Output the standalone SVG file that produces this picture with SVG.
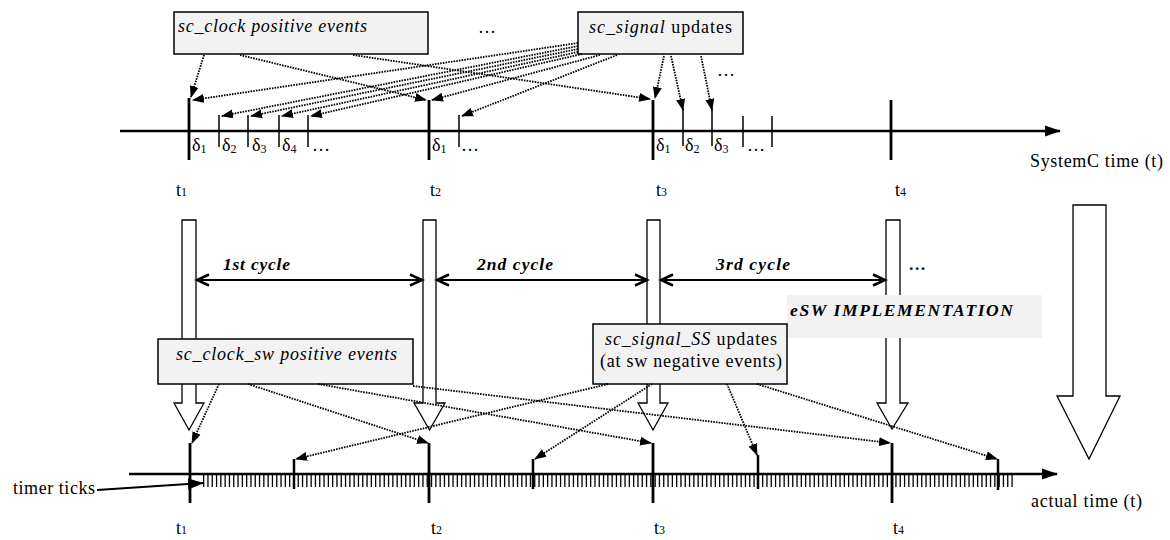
<svg xmlns="http://www.w3.org/2000/svg" width="1170" height="540" viewBox="0 0 1170 540">
<style>
text{font-family:"Liberation Serif","Times New Roman",serif;fill:#000}
.n{font-size:18px}
.i{font-size:18px;font-style:italic}
.bi{font-size:17.5px;font-style:italic;font-weight:bold}
.box{fill:#f2f2f2;stroke:#000;stroke-width:1.5}
.hollow{fill:#fff;stroke:#000;stroke-width:1.3}
.dot{fill:none;stroke:#000;stroke-width:1.8;stroke-dasharray:1.6 1.1;marker-end:url(#ah)}
.axis{stroke:#000;stroke-width:2.7;fill:none}
.big{stroke:#000;stroke-width:2.8}
.small{stroke:#000;stroke-width:1.5}
.mid{stroke:#000;stroke-width:2.5}
.cyc{stroke:#000;stroke-width:2.2;marker-start:url(#chev);marker-end:url(#chev)}
</style>
<defs>
<marker id="ah" markerUnits="userSpaceOnUse" markerWidth="12" markerHeight="10" refX="11" refY="5" orient="auto" viewBox="0 0 12 10"><path d="M0,0.5 L12,5 L0,9.5 z" fill="#000"/></marker>
<marker id="axh" markerUnits="userSpaceOnUse" markerWidth="16" markerHeight="12" refX="15" refY="6" orient="auto" viewBox="0 0 16 12"><path d="M0,0.5 L16,6 L0,11.5 z" fill="#000"/></marker>
<marker id="chev" markerUnits="userSpaceOnUse" markerWidth="16" markerHeight="14" refX="13" refY="7" orient="auto-start-reverse" viewBox="0 0 16 14"><path d="M1,1.5 L13,7 L1,12.5" fill="none" stroke="#000" stroke-width="2.5"/></marker>
</defs>

<!-- hollow block arrows -->
<g id="flow-arrows">
<polygon class="hollow" points="182,220 196,220 196,403 204,403 189,430 174,403 182,403"/>
<polygon class="hollow" points="423,220 436,220 436,403 445,403 429.5,430 414,403 423,403"/>
<polygon class="hollow" points="647,220 660,220 660,403 668,403 653,430 638,403 647,403"/>
<polygon class="hollow" points="886,220 900,220 900,403 908,403 892,429 877,403 886,403"/>
<polygon class="hollow" points="1073,205 1106,205 1106,396 1120,396 1089,459 1057,396 1073,396"/>
</g>

<!-- top time axis -->
<g id="systemc-axis">
<line class="axis" x1="120" y1="131" x2="1060" y2="131" marker-end="url(#axh)"/>
<line class="big" x1="189" y1="98" x2="189" y2="160"/>
<line class="big" x1="429" y1="100" x2="429" y2="160"/>
<line class="big" x1="653" y1="100" x2="653" y2="160"/>
<line class="big" x1="891" y1="100" x2="891" y2="160"/>
<line class="small" x1="219" y1="115" x2="219" y2="147"/>
<line class="small" x1="248" y1="115" x2="248" y2="147"/>
<line class="small" x1="279" y1="115" x2="279" y2="147"/>
<line class="small" x1="308" y1="115" x2="308" y2="147"/>
<line class="small" x1="459" y1="115" x2="459" y2="147"/>
<line class="small" x1="683" y1="108" x2="683" y2="146"/>
<line class="small" x1="712" y1="108" x2="712" y2="146"/>
<line class="small" x1="743" y1="116" x2="743" y2="147"/>
<line class="small" x1="772" y1="116" x2="772" y2="147"/>
<text class="n" x="192" y="151">δ<tspan font-size="12" dy="2">1</tspan></text>
<text class="n" x="222" y="151">δ<tspan font-size="12" dy="2">2</tspan></text>
<text class="n" x="252" y="151">δ<tspan font-size="12" dy="2">3</tspan></text>
<text class="n" x="282" y="151">δ<tspan font-size="12" dy="2">4</tspan></text>
<text class="n" x="312" y="151">…</text>
<text class="n" x="432" y="151">δ<tspan font-size="12" dy="2">1</tspan></text>
<text class="n" x="461" y="151">…</text>
<text class="n" x="656" y="151">δ<tspan font-size="12" dy="2">1</tspan></text>
<text class="n" x="685" y="151">δ<tspan font-size="12" dy="2">2</tspan></text>
<text class="n" x="714" y="151">δ<tspan font-size="12" dy="2">3</tspan></text>
<text class="n" x="747" y="151">…</text>
<text class="n" x="1030" y="167" textLength="133">SystemC time (t)</text>
<text class="n" x="176" y="196">t<tspan font-size="12">1</tspan></text>
<text class="n" x="430" y="196">t<tspan font-size="12">2</tspan></text>
<text class="n" x="656" y="196">t<tspan font-size="12">3</tspan></text>
<text class="n" x="895" y="196">t<tspan font-size="12">4</tspan></text>
</g>

<!-- cycles -->
<g id="cycles">
<line class="cyc" x1="197" y1="280" x2="422" y2="280"/>
<line class="cyc" x1="437" y1="280" x2="647" y2="280"/>
<line class="cyc" x1="661" y1="280" x2="885" y2="280"/>
<text class="bi" x="223" y="270" textLength="67">1st cycle</text>
<text class="bi" x="477" y="270" textLength="76">2nd cycle</text>
<text class="bi" x="716" y="270" textLength="74">3rd cycle</text>
<text class="bi" x="909" y="270">…</text>
</g>

<!-- nodes -->
<g id="clock-events">
<rect class="box" x="174" y="12" width="254" height="42"/>
<text class="i" x="178" y="32" textLength="189">sc_clock positive events</text>
</g>
<g id="signal-updates">
<rect class="box" x="578" y="12" width="165" height="42"/>
<text class="n" x="589" y="33" textLength="143"><tspan font-style="italic">sc_signal</tspan> updates</text>
</g>
<text class="n" x="478" y="33">…</text>
<text class="n" x="717" y="76">…</text>

<g id="esw-label">
<rect x="787" y="295" width="255" height="43" fill="#f2f2f2"/>
<text class="bi" x="790" y="316" textLength="223">eSW IMPLEMENTATION</text>
</g>
<g id="clock-sw-events">
<rect class="box" x="158" y="339" width="255" height="45"/>
<text class="i" x="176" y="360" textLength="221">sc_clock_sw positive events</text>
</g>
<g id="signal-ss-updates">
<rect class="box" x="593" y="324" width="194" height="60"/>
<text class="n" x="605" y="345" textLength="172"><tspan font-style="italic">sc_signal_SS</tspan> updates</text>
<text class="n" x="600" y="367" textLength="182">(at sw negative events)</text>
</g>

<!-- bottom time axis -->
<g id="actual-axis">
<line stroke="#000" stroke-width="12" stroke-dasharray="1.3 3" x1="203" y1="481" x2="1013" y2="481"/>
<line class="axis" x1="129" y1="474" x2="1057" y2="474" marker-end="url(#axh)"/>
<line class="big" x1="190" y1="443" x2="190" y2="503"/>
<line class="big" x1="429" y1="443" x2="429" y2="503"/>
<line class="big" x1="653" y1="443" x2="653" y2="503"/>
<line class="big" x1="892" y1="443" x2="892" y2="503"/>
<line class="mid" x1="294" y1="459" x2="294" y2="489"/>
<line class="mid" x1="533" y1="459" x2="533" y2="489"/>
<line class="mid" x1="758" y1="455" x2="758" y2="489"/>
<line class="mid" x1="998" y1="459" x2="998" y2="490"/>
<text class="n" x="1031" y="507" textLength="111">actual time (t)</text>
<text class="n" x="13" y="494" textLength="82">timer ticks</text>
<line stroke="#000" stroke-width="2" x1="97" y1="490" x2="203" y2="483" marker-end="url(#axh)"/>
<text class="n" x="176" y="534">t<tspan font-size="12">1</tspan></text>
<text class="n" x="431" y="534">t<tspan font-size="12">2</tspan></text>
<text class="n" x="654" y="534">t<tspan font-size="12">3</tspan></text>
<text class="n" x="893" y="534">t<tspan font-size="12">4</tspan></text>
</g>

<!-- connectors -->
<g id="connectors">
<line class="dot" x1="204" y1="55" x2="191" y2="97"/>
<line class="dot" x1="240" y1="55" x2="426" y2="100"/>
<line class="dot" x1="353" y1="55" x2="650" y2="99"/>
<line class="dot" x1="578" y1="43" x2="193" y2="100"/>
<line class="dot" x1="578" y1="46" x2="222" y2="116"/>
<line class="dot" x1="578" y1="49" x2="251" y2="116"/>
<line class="dot" x1="578" y1="52" x2="282" y2="116"/>
<line class="dot" x1="582" y1="54" x2="311" y2="116"/>
<line class="dot" x1="600" y1="55" x2="432" y2="100"/>
<line class="dot" x1="617" y1="55" x2="462" y2="116"/>
<line class="dot" x1="664" y1="56" x2="655" y2="98"/>
<line class="dot" x1="671" y1="56" x2="683" y2="110"/>
<line class="dot" x1="701" y1="56" x2="712" y2="110"/>
<line class="dot" x1="219" y1="384" x2="192" y2="443"/>
<line class="dot" x1="248" y1="384" x2="428" y2="443"/>
<line class="dot" x1="318" y1="384" x2="651" y2="443"/>
<line class="dot" x1="413" y1="386" x2="890" y2="443"/>
<line class="dot" x1="608" y1="384" x2="296" y2="459"/>
<line class="dot" x1="652" y1="384" x2="535" y2="459"/>
<line class="dot" x1="727" y1="384" x2="757" y2="455"/>
<line class="dot" x1="757" y1="384" x2="997" y2="459"/>
</g>
</svg>
